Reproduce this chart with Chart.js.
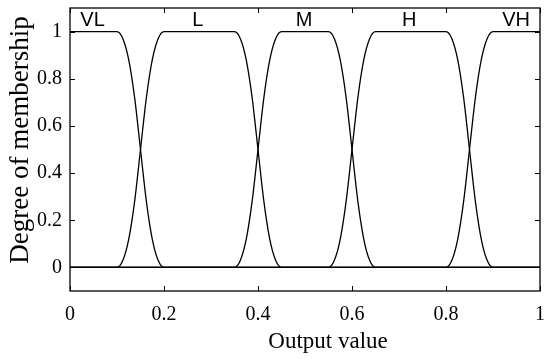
<!DOCTYPE html>
<html>
<head>
<meta charset="utf-8">
<script src="https://cdn.jsdelivr.net/npm/chart.js@4"></script>
<style>
  html, body { margin: 0; padding: 0; background: #fff; }
  #wrap { width: 550px; height: 359px; }
</style>
</head>
<body>
<div id="wrap"><canvas id="mfChart"></canvas></div>
<script>
// Membership function data
const setNames = ['VL', 'L', 'M', 'H', 'VH'];
const xTicks = [0, 0.2, 0.4, 0.6, 0.8, 1];
const yTicks = [0, 0.2, 0.4, 0.6, 0.8, 1];

const vlX = [0, 0.1, 0.1125, 0.125, 0.1375, 0.15, 0.1625, 0.175, 0.1875, 0.2, 1];
const vlY = [1, 1, 0.97, 0.88, 0.72, 0.5, 0.28, 0.12, 0.03, 0, 0];

const lX = [0, 0.1, 0.1125, 0.125, 0.1375, 0.15, 0.1625, 0.175, 0.1875, 0.2,
            0.35, 0.3625, 0.375, 0.3875, 0.4, 0.4125, 0.425, 0.4375, 0.45, 1];
const lY = [0, 0, 0.03, 0.12, 0.28, 0.5, 0.72, 0.88, 0.97, 1,
            1, 0.97, 0.88, 0.72, 0.5, 0.28, 0.12, 0.03, 0, 0];

const mX = [0, 0.35, 0.3625, 0.375, 0.3875, 0.4, 0.4125, 0.425, 0.4375, 0.45,
            0.55, 0.5625, 0.575, 0.5875, 0.6, 0.6125, 0.625, 0.6375, 0.65, 1];
const mY = [0, 0, 0.03, 0.12, 0.28, 0.5, 0.72, 0.88, 0.97, 1,
            1, 0.97, 0.88, 0.72, 0.5, 0.28, 0.12, 0.03, 0, 0];

const hX = [0, 0.55, 0.5625, 0.575, 0.5875, 0.6, 0.6125, 0.625, 0.6375, 0.65,
            0.8, 0.8125, 0.825, 0.8375, 0.85, 0.8625, 0.875, 0.8875, 0.9, 1];
const hY = [0, 0, 0.03, 0.12, 0.28, 0.5, 0.72, 0.88, 0.97, 1,
            1, 0.97, 0.88, 0.72, 0.5, 0.28, 0.12, 0.03, 0, 0];

const vhX = [0, 0.8, 0.8125, 0.825, 0.8375, 0.85, 0.8625, 0.875, 0.8875, 0.9, 1];
const vhY = [0, 0, 0.03, 0.12, 0.28, 0.5, 0.72, 0.88, 0.97, 1, 1];

const seriesX = [vlX, lX, mX, hX, vhX];
const seriesY = [vlY, lY, mY, hY, vhY];

const datasets = setNames.map((name, i) => ({
  label: name,
  data: seriesX[i].map((x, j) => ({ x: x, y: seriesY[i][j] })),
  borderColor: '#000',
  borderWidth: 1.3,
  pointRadius: 0,
  showLine: true,
  fill: false,
  cubicInterpolationMode: 'monotone'
}));

const serif = '"Liberation Serif", "Times New Roman", serif';
const fmt = v => String(Math.round(v * 10) / 10);

// box, inward tick marks, set names and axis titles
const framePlugin = {
  id: 'frame',
  afterDatasetsDraw(chart, args, opts) {
    const { ctx, chartArea: a, scales } = chart;
    ctx.save();
    ctx.strokeStyle = '#000';
    ctx.lineWidth = 1.3;
    ctx.strokeRect(a.left, a.top, a.right - a.left, a.bottom - a.top);
    ctx.lineWidth = 1;
    ctx.beginPath();
    xTicks.forEach(v => {
      const px = Math.round(scales.x.getPixelForValue(v)) + 0.5;
      ctx.moveTo(px, a.bottom); ctx.lineTo(px, a.bottom - 5);
      ctx.moveTo(px, a.top); ctx.lineTo(px, a.top + 5);
    });
    yTicks.forEach(v => {
      const py = Math.round(scales.y.getPixelForValue(v)) + 0.5;
      ctx.moveTo(a.left, py); ctx.lineTo(a.left + 5, py);
      ctx.moveTo(a.right, py); ctx.lineTo(a.right - 5, py);
    });
    ctx.stroke();

    ctx.fillStyle = '#000';
    ctx.font = '20px "Liberation Sans", Arial, sans-serif';
    ctx.textAlign = 'center';
    ctx.textBaseline = 'middle';
    setNames.forEach((name, i) => {
      ctx.fillText(name, scales.x.getPixelForValue(opts.labelX[i]), scales.y.getPixelForValue(opts.labelY));
    });

    // axis titles (offset like the original figure)
    ctx.textBaseline = 'alphabetic';
    ctx.font = '23px ' + serif;
    ctx.fillText('Output value', 328, 348);
    ctx.translate(28, 140);
    ctx.rotate(-Math.PI / 2);
    ctx.font = '27px ' + serif;
    ctx.fillText('Degree of membership', 0, 0);
    ctx.restore();
  }
};

new Chart(document.getElementById('mfChart').getContext('2d'), {
  type: 'scatter',
  data: { datasets: datasets },
  options: {
    responsive: true,
    maintainAspectRatio: false,
    animation: false,
    layout: { padding: { left: 0, right: 10, top: 8, bottom: 0 } },
    plugins: {
      legend: { display: false },
      tooltip: { enabled: false },
      frame: { labelX: [0.048, 0.272, 0.498, 0.722, 0.949], labelY: 1.045 }
    },
    scales: {
      x: {
        type: 'linear',
        min: 0,
        max: 1,
        afterBuildTicks: s => { s.ticks = xTicks.map(v => ({ value: v })); },
        afterFit: s => { s.height = 68; s.paddingLeft = 0; s.paddingRight = 0; },
        grid: { display: false, drawTicks: false },
        border: { display: false },
        ticks: { color: '#000', font: { family: serif, size: 20 }, padding: 12, maxRotation: 0, callback: fmt }
      },
      y: {
        type: 'linear',
        min: -0.1,
        max: 1.1,
        afterBuildTicks: s => { s.ticks = yTicks.map(v => ({ value: v })); },
        afterFit: s => { s.width = 70; s.paddingTop = 0; s.paddingBottom = 0; },
        grid: { display: false, drawTicks: false },
        border: { display: false },
        ticks: { color: '#000', font: { family: serif, size: 20 }, padding: 8, callback: fmt }
      }
    }
  },
  plugins: [framePlugin]
});
</script>
</body>
</html>
